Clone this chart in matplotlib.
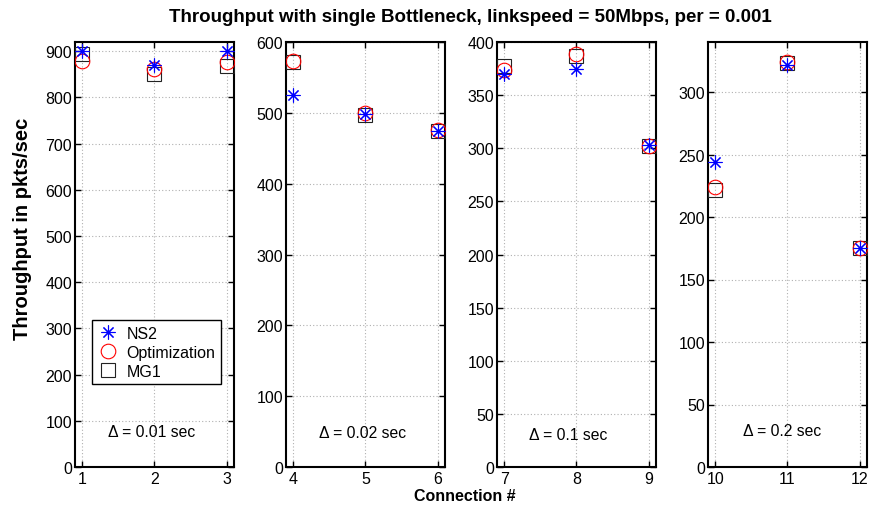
import matplotlib
matplotlib.use("Agg")
import matplotlib.pyplot as plt
from matplotlib.lines import Line2D

plt.rcParams['font.family'] = ['Liberation Sans', 'DejaVu Sans']

connections = [[1, 2, 3], [4, 5, 6], [7, 8, 9], [10, 11, 12]]
ns2 = [[900, 870, 900], [525, 498, 474], [370, 375, 303], [244, 322, 175]]
optimization = [[879, 861, 877], [573, 500, 476], [374, 389, 302], [224, 324, 175]]
mg1 = [[895, 850, 868], [572, 497, 474], [377, 387, 302], [222, 323, 175]]
deltas = ["Δ = 0.01 sec", "Δ = 0.02 sec", "Δ = 0.1 sec", "Δ = 0.2 sec"]
ylims = [920, 600, 400, 340]
ystep = [100, 100, 50, 50]
ytop = [900, 600, 400, 300]

W, H = 870, 506
fig = plt.figure(figsize=(W / 100, H / 100), dpi=100)
lefts = [75, 286, 497, 708]
axw = 159
top, bottom = 43, 468
text_pos = [(152, 433), (363, 434), (568, 436), (782, 432)]

asterisk = (8, 2, 0)
mk = dict(ms_ast=10, ms_circ=10.5, ms_sq=9.5, mew=0.8)
for i in range(4):
    ax = fig.add_axes([lefts[i] / W, 1 - bottom / H, axw / W, (bottom - top) / H])
    x = connections[i]
    ax.plot(x, mg1[i], linestyle='none', marker='s', mfc='none', mec='#222222',
            ms=mk['ms_sq'], mew=mk['mew'], zorder=3)
    ax.plot(x, optimization[i], linestyle='none', marker='o', mfc='none', mec='red',
            ms=mk['ms_circ'], mew=mk['mew'], zorder=4)
    ax.plot(x, ns2[i], linestyle='none', marker=asterisk, color='blue',
            ms=mk['ms_ast'], mew=mk['mew'], zorder=5)
    ax.set_xlim(x[0] - 0.1, x[-1] + 0.1)
    ax.set_ylim(0, ylims[i])
    ax.set_xticks(x)
    ax.set_yticks(list(range(0, ytop[i] + 1, ystep[i])))
    ax.grid(True, linestyle=(0, (1, 2)), color='#b0b0b0', linewidth=0.8)
    ax.tick_params(direction='in', top=True, right=True, labelsize=11.5, length=4,
                   width=1.0)
    ax.tick_params(axis='x', pad=3)
    ax.tick_params(axis='y', pad=2)
    for s in ax.spines.values():
        s.set_linewidth(1.5)
    tx, ty = text_pos[i]
    ax.text((tx - lefts[i]) / axw, (bottom - ty) / (bottom - top), deltas[i],
            transform=ax.transAxes, ha='center', va='center', fontsize=11.3)
    if i == 0:
        handles = [
            Line2D([], [], linestyle='none', marker=asterisk, color='blue', ms=mk['ms_ast'], mew=mk['mew']),
            Line2D([], [], linestyle='none', marker='o', mfc='none', mec='red', ms=mk['ms_circ'], mew=mk['mew']),
            Line2D([], [], linestyle='none', marker='s', mfc='none', mec='#222222', ms=mk['ms_sq'], mew=mk['mew']),
        ]
        leg = ax.legend(handles, ['NS2', 'Optimization', 'MG1'],
                        loc='upper left',
                        bbox_to_anchor=((92 - lefts[0]) / axw, (bottom - 321) / (bottom - top)),
                        fontsize=11.5, frameon=True, fancybox=False, framealpha=1,
                        edgecolor='black', handlelength=1.3, handletextpad=0.5,
                        borderpad=0.35, labelspacing=0.25, borderaxespad=0)
        leg.get_frame().set_linewidth(1.0)

fig.text(470 / W, 1 - 17 / H, "Throughput with single Bottleneck, linkspeed = 50Mbps, per = 0.001",
         ha='center', va='center', fontsize=13.5, fontweight='bold')
fig.text(23 / W, 1 - 229 / H, "Throughput in pkts/sec", rotation=90, ha='center',
         va='center', fontsize=14.5, fontweight='bold')
fig.text(465 / W, 1 - 497 / H, "Connection #", ha='center', va='center',
         fontsize=11.5, fontweight='bold')

fig.savefig("out.png", dpi=100)
